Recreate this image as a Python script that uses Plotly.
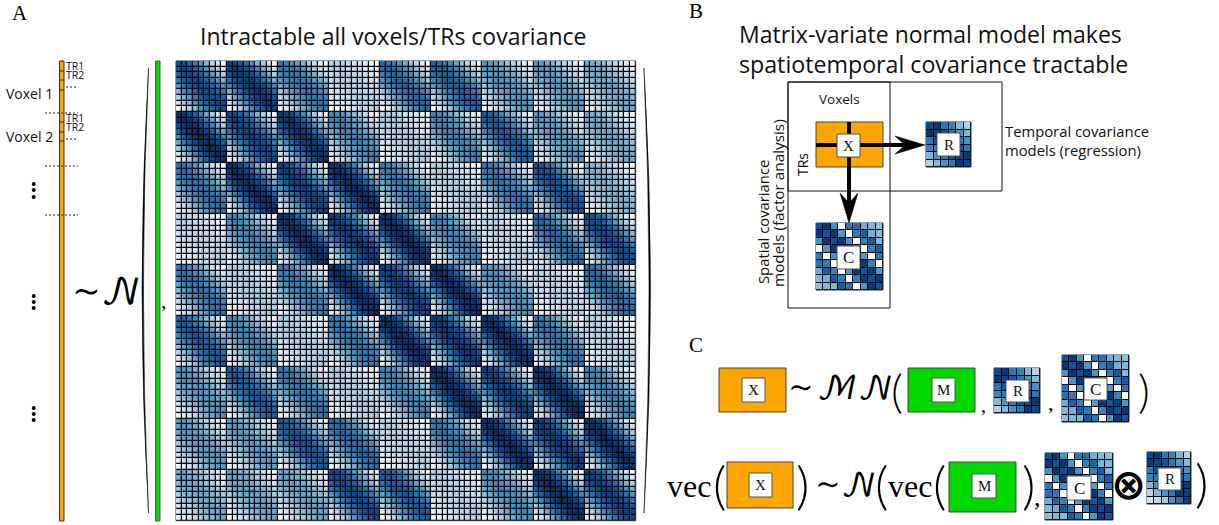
import numpy as np
import plotly.graph_objects as go

# ---- values ----
BLOCK_STRENGTH = [
    [0.88, 0.95, 0.72, 0.32, 0.76, 0.80, 0.60, 0.58, 0.52],
    [1.00, 0.90, 0.97, 0.66, 0.34, 0.66, 0.82, 0.58, 0.52],
    [0.74, 1.00, 0.92, 1.00, 0.70, 0.34, 0.72, 0.86, 0.48],
    [0.30, 0.66, 1.00, 0.95, 1.00, 0.66, 0.30, 0.76, 0.88],
    [0.72, 0.34, 0.70, 1.00, 0.93, 1.00, 0.62, 0.30, 0.76],
    [0.82, 0.66, 0.34, 0.72, 1.00, 0.95, 1.00, 0.72, 0.32],
    [0.60, 0.82, 0.72, 0.34, 0.66, 1.00, 0.93, 1.00, 0.66],
    [0.58, 0.58, 0.84, 0.76, 0.32, 0.72, 1.00, 0.95, 1.00],
    [0.52, 0.54, 0.54, 0.88, 0.82, 0.32, 0.64, 1.00, 0.92],
]
LAG_PROFILE = [1.00, 0.97, 0.90, 0.80, 0.67, 0.52, 0.37, 0.20, 0.05]

SPATIAL_SMALL = [
    [0.88, 0.97, 0.62, 0.00, 0.72, 0.75, 0.50, 0.45, 0.42],
    [0.97, 0.85, 0.97, 0.60, 0.00, 0.70, 0.80, 0.48, 0.45],
    [0.62, 0.97, 0.88, 0.97, 0.62, 0.00, 0.68, 0.82, 0.45],
    [0.00, 0.60, 0.97, 0.85, 0.95, 0.62, 0.00, 0.70, 0.82],
    [0.72, 0.00, 0.62, 0.95, 0.85, 0.97, 0.58, 0.00, 0.72],
    [0.75, 0.70, 0.00, 0.62, 0.97, 0.88, 0.97, 0.68, 0.00],
    [0.50, 0.80, 0.68, 0.00, 0.58, 0.97, 0.85, 0.95, 0.60],
    [0.45, 0.48, 0.82, 0.70, 0.00, 0.68, 0.95, 0.88, 0.97],
    [0.42, 0.45, 0.45, 0.82, 0.72, 0.00, 0.60, 0.97, 0.85],
]
TEMPORAL_SMALL = [
    [0.90, 0.97, 0.72, 0.68, 0.45, 0.32],
    [0.97, 0.92, 0.85, 0.72, 0.60, 0.45],
    [0.72, 0.85, 0.90, 0.82, 0.72, 0.62],
    [0.68, 0.72, 0.82, 0.90, 0.85, 0.72],
    [0.45, 0.60, 0.72, 0.85, 0.92, 0.97],
    [0.32, 0.45, 0.62, 0.72, 0.97, 0.90],
]
TEMPORAL_LONG = [
    [0.90, 0.97, 0.72, 0.68, 0.45, 0.32],
    [0.97, 0.92, 0.85, 0.72, 0.60, 0.45],
    [0.72, 0.85, 0.90, 0.82, 0.72, 0.62],
    [0.68, 0.72, 0.82, 0.90, 0.85, 0.72],
    [0.45, 0.60, 0.72, 0.85, 0.92, 0.97],
    [0.32, 0.45, 0.62, 0.72, 0.97, 0.95],
    [0.18, 0.28, 0.35, 0.62, 0.75, 0.95],
]
BLUES = ["#ffffff", "#deebf7", "#c6dbef", "#9ecae1", "#6baed6",
         "#4292c6", "#2171b5", "#08519c", "#08306b"]

TITLE_A = "Intractable all voxels/TRs covariance"
TITLE_B = ["Matrix-variate normal model makes", "spatiotemporal covariance tractable"]

ORANGE, GREEN = "#ffa500", "#00d800"
SANS, SERIF = "Open Sans", "Liberation Serif"
MATH = "DejaVu Math TeX Gyre, DejaVu Serif, Liberation Serif"

# ---- build ----
cov = np.array([[BLOCK_STRENGTH[i][j] * LAG_PROFILE[abs(a - b)]
                 for j in range(9) for b in range(9)]
                for i in range(9) for a in range(9)])
scale = [[k / (len(BLUES) - 1), c] for k, c in enumerate(BLUES)]

fig = go.Figure()
shapes, notes = [], []


def rect(x0, y0, x1, y1, fill="rgba(0,0,0,0)", line="#000", w=1, layer="above"):
    shapes.append(dict(type="rect", xref="x", yref="y", x0=x0, y0=y0, x1=x1, y1=y1,
                       fillcolor=fill, line=dict(color=line, width=w), layer=layer))


def seg(x0, y0, x1, y1, color="#000", w=1, dash="solid"):
    shapes.append(dict(type="line", xref="x", yref="y", x0=x0, y0=y0, x1=x1, y1=y1,
                       line=dict(color=color, width=w, dash=dash)))


def path(d, fill="#000"):
    shapes.append(dict(type="path", xref="x", yref="y", path=d, fillcolor=fill,
                       line=dict(color=fill, width=0.5)))


def text(s, x, y, size, font=SANS, anchor="center", angle=0, color="#111", weight=None):
    f = dict(family=font, size=size, color=color)
    if weight:
        f["weight"] = weight
    notes.append(dict(text=s, x=x, y=y, xref="x", yref="y", showarrow=False,
                      xanchor=anchor, yanchor="middle", textangle=angle, font=f))


def paren(s, x, y, size):
    text(s, x, y, size, font="Lato", color="#000", weight=300)


def matrix(z, x0, y0, x1, y1, gap=1.0):
    z = np.asarray(z)
    rect(x0, y0, x1, y1, fill="#000", line="#333", layer="below")
    dx, dy = (x1 - x0) / z.shape[1], (y1 - y0) / z.shape[0]
    fig.add_trace(go.Heatmap(z=z, x0=x0 + dx / 2, dx=dx, y0=y0 + dy / 2, dy=dy,
                             colorscale=scale, zmin=0, zmax=1, showscale=False,
                             xgap=gap, ygap=gap, hoverinfo="skip"))


def label_box(s, x0, y0, x1, y1, size=15):
    rect(x0, y0, x1, y1, fill="#fff", line="#555", w=1)
    text(s, (x0 + x1) / 2, (y0 + y1) / 2, size, font=SERIF)


def block(fill, s, x0, y0, x1, y1, bx0, by0, bx1, by1, size=15):
    rect(x0, y0, x1, y1, fill=fill, line="#444", w=1)
    label_box(s, bx0, by0, bx1, by1, size)


def tall_paren(xtip, xmid, y0, y1):
    ym = (y0 + y1) / 2
    sgn = 1 if xmid > xtip else -1
    c_out = 2 * xmid - xtip
    c_in = c_out - sgn * 3
    path(f"M{xtip},{y0} Q{c_out},{ym} {xtip},{y1} Q{c_in},{ym} {xtip},{y0} Z")


# ---- panel A ----
text("A", 20, 13, 21, font=SERIF, color="#000")
text(TITLE_A, 393, 36, 23)
rect(59.5, 61, 64, 521, fill=ORANGE, line="#333")
rect(155.5, 61, 160, 521, fill=GREEN, line="#555")
for yt in (71, 80, 90, 122, 132, 141):
    seg(59.5, yt, 64, yt, color="#333", w=1)
for yt in (113, 166, 215):
    seg(45, yt, 78, yt, color="#222", w=1, dash="2px,2px")
for yt in (87, 139):
    seg(66, yt, 77, yt, color="#222", w=1, dash="2px,2px")
for yt, s in ((66, "TR1"), (75, "TR2"), (118, "TR1"), (127, "TR2")):
    text(s, 64, yt, 10.5, anchor="left")
text("Voxel 1", 4, 93, 14, anchor="left")
text("Voxel 2", 4, 136, 14, anchor="left")
for ys in ((184, 190, 197), (296, 302, 308), (408, 414, 420)):
    for yy in ys:
        shapes.append(dict(type="circle", xref="x", yref="y", x0=31.7, x1=35.7, y0=yy - 2,
                           y1=yy + 2, fillcolor="#000", line=dict(width=0)))
text("∼", 86, 291, 34, font=MATH, color="#000")
text("𝒩", 121, 293, 36, font=MATH, color="#000")
text(",", 164, 300, 22, font=SERIF, color="#000")
tall_paren(148.5, 142, 68, 513)
tall_paren(644, 650.5, 68, 513)
matrix(cov, 176, 61, 635.7, 520.7, gap=1.25)

# ---- panel B ----
text("B", 696, 11, 21, font=SERIF, color="#000")
text(TITLE_B[0], 737, 34, 23, anchor="left")
text(TITLE_B[1], 737, 64, 23.2, anchor="left")
rect(788, 82, 1002, 191, line="#111")
rect(788, 82, 890, 308, line="#111")
text("Voxels", 839, 99, 13.5)
text("TRs", 802, 165, 14, angle=-90)
text("Spatial covariance", 763, 222, 14.8, angle=-90)
text("models (factor analysis)", 778, 203, 15.3, angle=-90)
text("Temporal covariance", 1003, 131, 14.8, anchor="left")
text("models (regression)", 1003, 150, 14.8, anchor="left")
rect(816, 122, 883, 167, fill=ORANGE, line="#444")
matrix(TEMPORAL_SMALL, 926, 122, 971, 167)
matrix(SPATIAL_SMALL, 816, 223, 883, 290)
seg(816, 145, 908, 145, w=4)
seg(849, 122, 849, 205, w=4)
path("M925,145 L895,136 L905,145 L895,154 Z")
path("M849,223 L840,193 L849,203 L858,193 Z")
label_box("X", 837, 134, 860, 157)
label_box("R", 937, 133, 960, 156)
label_box("C", 837, 246, 860, 269, 17)

# ---- panel C, first line ----
text("C", 696, 345, 21, font=SERIF, color="#000")
block(ORANGE, "X", 719, 368, 786, 412, 742, 378, 765, 402)
text("∼", 801, 387, 30, font=MATH, color="#000")
text("ℳ𝒩", 855, 390, 32, font=MATH, color="#000")
paren("(", 897, 390, 46)
block(GREEN, "M", 908, 368, 975, 412, 932, 378, 955, 402)
text(",", 983, 405, 20, font=SERIF, color="#000")
matrix(TEMPORAL_SMALL, 994, 368, 1040, 413)
label_box("R", 1006, 380, 1029, 402)
text(",", 1051, 402, 22, font=SERIF, color="#000")
matrix(SPATIAL_SMALL, 1062, 355, 1129, 422)
label_box("C", 1084, 378, 1107, 400, 17)
paren(")", 1144, 390, 46)

# ---- panel C, second line ----
text("vec", 689, 486, 32, font=SERIF, color="#000")
paren("(", 719, 484, 52)
block(ORANGE, "X", 727, 462, 793, 508, 749, 473, 772, 497)
paren(")", 802, 484, 52)
text("∼", 828, 484, 30, font=MATH, color="#000")
text("𝒩", 859, 487, 32, font=MATH, color="#000")
paren("(", 881, 484, 52)
text("vec", 910, 486, 32, font=SERIF, color="#000")
paren("(", 939, 484, 52)
block(GREEN, "M", 949, 462, 1016, 512, 972, 474, 996, 498)
paren(")", 1028, 484, 52)
text(",", 1037, 497, 26, font=SERIF, color="#000")
matrix(SPATIAL_SMALL, 1045, 453, 1113, 520)
label_box("C", 1067, 476, 1091, 500, 17)
text("<b>⊗</b>", 1128, 484, 42, font="DejaVu Sans", color="#000")
matrix(TEMPORAL_LONG, 1147, 452, 1191, 504)
label_box("R", 1158, 468, 1181, 490)
paren(")", 1201, 482, 52)

fig.update_layout(
    width=1219, height=525, autosize=False,
    margin=dict(l=0, r=0, t=0, b=0),
    paper_bgcolor="#fff", plot_bgcolor="#fff",
    showlegend=False, hovermode=False,
    shapes=shapes, annotations=notes,
    xaxis=dict(range=[0, 1219], visible=False, fixedrange=True),
    yaxis=dict(range=[525, 0], visible=False, fixedrange=True),
)
fig.write_html("out.html", config=dict(displayModeBar=False),
               post_script="document.body.style.margin='0';document.body.style.overflow='hidden';")
